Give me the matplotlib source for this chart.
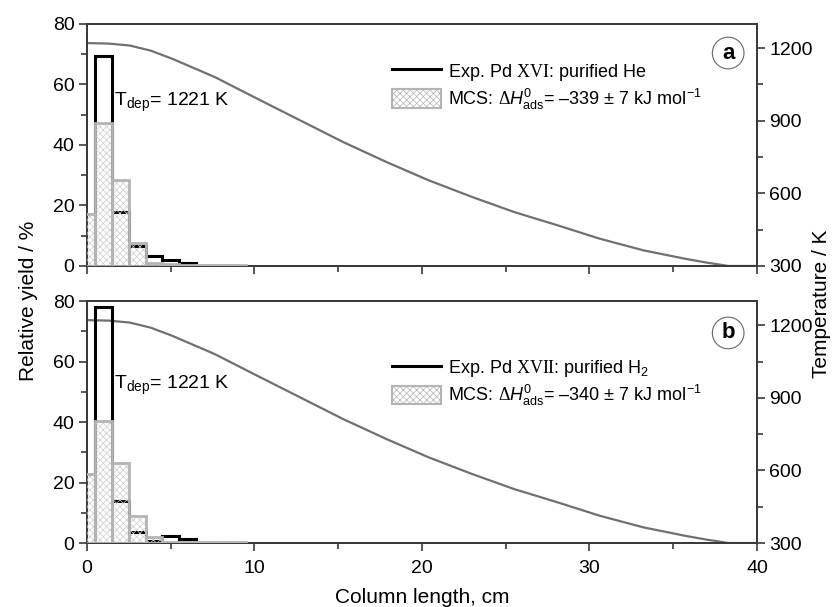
import numpy as np
import matplotlib
matplotlib.use("Agg")
from matplotlib import pyplot as plt
from matplotlib.patches import Patch
from matplotlib.lines import Line2D

plt.rcParams["font.family"] = ["Liberation Sans", "DejaVu Sans"]
plt.rcParams["font.size"] = 14
plt.rcParams["mathtext.fontset"] = "custom"
plt.rcParams["mathtext.rm"] = "Liberation Serif"
plt.rcParams["mathtext.it"] = "Liberation Sans:italic"
plt.rcParams["mathtext.sf"] = "Liberation Sans"
plt.rcParams["mathtext.bf"] = "Liberation Sans:bold"
plt.rcParams["hatch.linewidth"] = 0.5

# histogram bins, 1 cm wide, centred on these positions (cm)
bin_centers = [0, 1, 2, 3, 4, 5, 6, 7, 8, 9]

# panel a: Pd XVI, purified He
exp_a = [0, 69.5, 17.7, 6.5, 3.3, 2.0, 1.1, 0, 0, 0]
mcs_a = [17.1, 47.2, 28.4, 7.5, 0.9, 0.5, 0.4, 0.3, 0.3, 0.2]
# panel b: Pd XVII, purified H2
exp_b = [0, 78.0, 13.9, 3.6, 0.8, 2.2, 1.4, 0, 0, 0]
mcs_b = [22.9, 40.3, 26.4, 8.8, 2.0, 0.5, 0.4, 0.3, 0.3, 0.2]

# temperature profile along the column
col_x = [0, 1.3, 2.55, 3.8, 5.1, 7.65, 10.2, 12.75, 15.3, 17.9, 20.4, 23.0,
         25.5, 28.1, 30.6, 33.2, 35.7, 37.0, 38.3, 40]
col_T = [1221, 1219, 1211, 1190, 1156, 1080, 990, 901, 812, 729, 654, 585,
         523, 468, 413, 365, 330, 314, 300, 300]

labels_exp = [r"Exp. Pd $\mathrm{XVI}$: purified He",
              r"Exp. Pd $\mathrm{XVII}$: purified H$_{\mathsf{2}}$"]
labels_mcs = [r"MCS: $\Delta\mathit{H}^{\mathsf{0}}_{\mathsf{ads}}$= –339 ± 7 kJ mol$^{\mathsf{-1}}$",
              r"MCS: $\Delta\mathit{H}^{\mathsf{0}}_{\mathsf{ads}}$= –340 ± 7 kJ mol$^{\mathsf{-1}}$"]
panel_tags = ["a", "b"]

spine_c = "#3a3a3a"
gray_edge = "#b4b4b4"
hatch_c = "#cdcdcd"

fig = plt.figure(figsize=(8.37, 6.07), dpi=100)
ax_a = fig.add_axes([0.1039, 0.5618, 0.8005, 0.3987])
ax_b = fig.add_axes([0.1039, 0.1054, 0.8005, 0.3987])

edges = np.array(bin_centers + [bin_centers[-1] + 1]) - 0.5

for i, (ax, exp, mcs) in enumerate([(ax_a, exp_a, mcs_a), (ax_b, exp_b, mcs_b)]):
    # experimental histogram (black step)
    ax.stairs(exp, edges, color="black", lw=2.2, zorder=2)
    # simulated histogram: hatch and then outline
    ax.bar(bin_centers, mcs, width=1, facecolor="none", edgecolor=hatch_c,
           hatch="xxxxx", lw=0, zorder=3)
    ax.bar(bin_centers, mcs, width=1, facecolor="none", edgecolor=gray_edge,
           lw=2.0, zorder=4)

    ax.set_xlim(0, 40)
    ax.set_ylim(0, 80)
    ax.set_xticks([0, 10, 20, 30, 40])
    ax.set_xticks([5, 15, 25, 35], minor=True)
    ax.set_yticks([0, 20, 40, 60, 80])
    ax.set_yticks([10, 30, 50, 70], minor=True)
    ax.tick_params(which="both", color=spine_c, width=1.2, direction="out",
                   labelsize=14, pad=3)
    ax.tick_params(axis="x", pad=6)
    ax.tick_params(which="major", length=6)
    ax.tick_params(which="minor", length=4)
    for s in ax.spines.values():
        s.set_color(spine_c)
        s.set_linewidth(1.3)

    # temperature axis
    tx = ax.twinx()
    tx.plot(col_x, col_T, color="#707070", lw=1.6, zorder=1)
    tx.set_ylim(300, 1300)
    tx.set_yticks([300, 600, 900, 1200])
    tx.set_yticks([450, 750, 1050], minor=True)
    tx.tick_params(which="both", color=spine_c, width=1.2, direction="out",
                   labelsize=14, pad=3)
    tx.tick_params(which="major", length=6)
    tx.tick_params(which="minor", length=4)
    for s in tx.spines.values():
        s.set_color(spine_c)
        s.set_linewidth(1.3)
    ax.set_zorder(tx.get_zorder() + 1)
    ax.patch.set_visible(False)

    handles = [Line2D([], [], color="black", lw=2.2),
               Patch(facecolor="white", edgecolor=gray_edge, hatch="xxxxx", lw=1.5)]
    leg_y = 0.845 if i == 0 else 0.765
    ax.legend(handles, [labels_exp[i], labels_mcs[i]], loc="upper left",
              bbox_to_anchor=(0.455, leg_y), frameon=False, borderpad=0,
              borderaxespad=0, handlelength=2.7, handleheight=1.2,
              handletextpad=0.4, labelspacing=0.2, fontsize=13)

    ty = 0.675 if i == 0 else 0.65
    ax.text(1.6, ty * 80, r"T$_{\mathsf{dep}}$= 1221 K", fontsize=14,
            ha="left", va="center", zorder=6)

    tag_y = 0.88 if i == 0 else 0.868
    ax.text(0.957, tag_y, panel_tags[i], transform=ax.transAxes, ha="center",
            va="center", fontsize=16, fontweight="bold", zorder=7,
            bbox=dict(boxstyle="circle,pad=0.24", fc="white", ec="#666666", lw=0.8))

ax_a.tick_params(axis="x", labelbottom=False)
ax_b.set_xlabel("Column length, cm", fontsize=15, labelpad=8)

fig.text(0.034, 0.505, "Relative yield / %", rotation=90, ha="center",
         va="center", fontsize=15)
fig.text(0.981, 0.5, "Temperature / K", rotation=90, ha="center",
         va="center", fontsize=15)

fig.savefig("out.png", dpi=100)
